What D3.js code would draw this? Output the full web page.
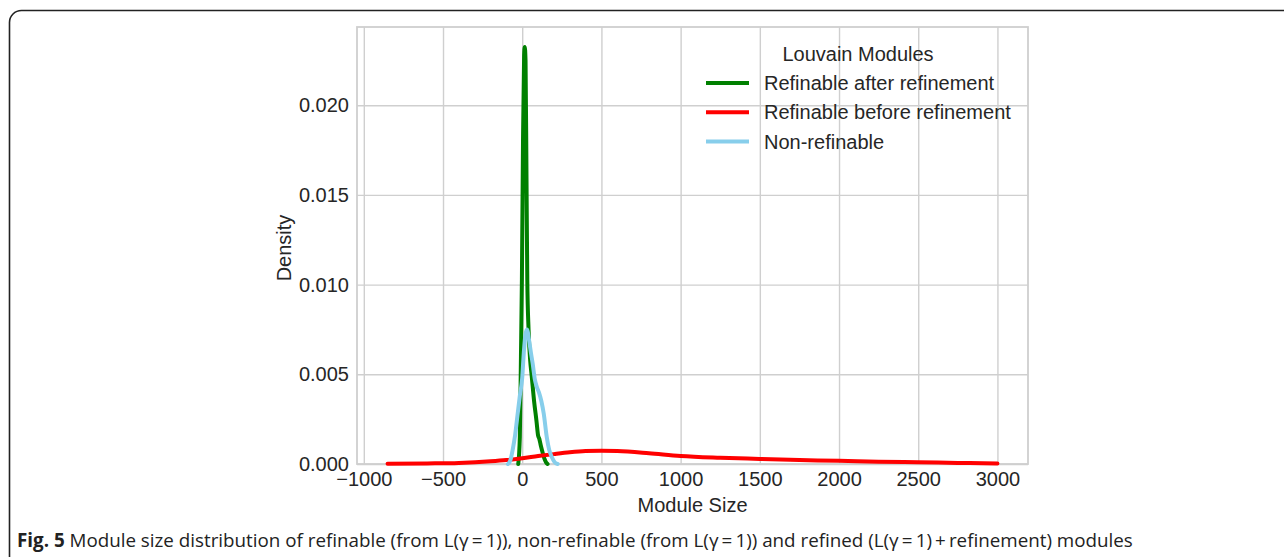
<!DOCTYPE html>
<html>
<head>
<meta charset="utf-8">
<script src="https://cdn.jsdelivr.net/npm/d3@7"></script>
<style>
  body { margin: 0; background: #fff; }
  svg { display: block; }
</style>
</head>
<body>
<div id="chart"></div>
<script>
// Series values (module size, density)
var afterX = [-25, -15, -8, -2, 5, 12, 16, 21, 27, 32, 40, 50, 60, 75, 90, 100, 108, 118, 130, 140, 150, 160];
var afterY = [0, 0.0015, 0.006, 0.0103, 0.018, 0.0228, 0.02325, 0.0225, 0.016, 0.0103, 0.0075, 0.0058, 0.0049, 0.0035, 0.0024, 0.0016, 0.0014, 0.001, 0.0006, 0.0003, 0.0001, 0];

var beforeX = [-850, -600, -400, -200, -100, 0, 100, 200, 300, 400, 500, 600, 800, 1000, 1250, 1500, 1750, 2000, 2250, 2500, 2750, 3000];
var beforeY = [0.00001, 0.00003, 0.00006, 0.00015, 0.00022, 0.00032, 0.00044, 0.00055, 0.00065, 0.00072, 0.00074, 0.00072, 0.0006, 0.00045, 0.00035, 0.00028, 0.00022, 0.00018, 0.00013, 0.0001, 0.00006, 0.00003];

var nonX = [-90, -75, -60, -45, -30, -15, 0, 10, 20, 30, 45, 55, 66, 80, 92, 105, 121, 136, 155, 170, 186, 205, 224];
var nonY = [0, 0.0002, 0.0008, 0.0016, 0.0027, 0.0038, 0.0048, 0.0062, 0.0072, 0.0075, 0.0068, 0.0062, 0.0056, 0.0047, 0.0043, 0.004, 0.0035, 0.0028, 0.0015, 0.0008, 0.0004, 0.0001, 0];

var seriesNames = ['Refinable after refinement', 'Refinable before refinement', 'Non-refinable'];
var seriesColors = ['green', 'red', 'skyblue'];
var xTicks = [-1000, -500, 0, 500, 1000, 1500, 2000, 2500, 3000];
var yTicks = [0, 0.005, 0.01, 0.015, 0.02];

var W = 1284, H = 557;
var svg = d3.select('#chart').append('svg')
    .attr('width', W).attr('height', H);

// Figure frame (rounded box, right side runs off the page)
svg.append('rect')
    .attr('x', 9.5).attr('y', 10.5)
    .attr('width', 1320).attr('height', 600)
    .attr('rx', 12).attr('ry', 12)
    .attr('fill', 'none')
    .attr('stroke', '#222').attr('stroke-width', 1.6);

var plot = { left: 357, right: 1028, top: 27, bottom: 464 };

var x = d3.scaleLinear().domain([-1043, 3193]).range([plot.left, plot.right]);
var y = d3.scaleLinear().domain([0, 0.02436]).range([plot.bottom, plot.top]);

var font = '"Liberation Sans", Arial, sans-serif';
var fs = 20;
var textColor = '#262626';
var gridColor = '#cfcfcf';

// Grid lines
svg.append('g')
    .attr('transform', 'translate(0,' + plot.bottom + ')')
    .call(d3.axisBottom(x).tickValues(xTicks).tickSize(-(plot.bottom - plot.top)).tickFormat(''))
    .call(function(g) {
        g.select('.domain').remove();
        g.selectAll('line').attr('stroke', gridColor).attr('stroke-width', 1.4);
    });

svg.append('g')
    .attr('transform', 'translate(' + plot.left + ',0)')
    .call(d3.axisLeft(y).tickValues(yTicks).tickSize(-(plot.right - plot.left)).tickFormat(''))
    .call(function(g) {
        g.select('.domain').remove();
        g.selectAll('line').attr('stroke', gridColor).attr('stroke-width', 1.4);
    });

// Axes frame
svg.append('rect')
    .attr('x', plot.left).attr('y', plot.top)
    .attr('width', plot.right - plot.left).attr('height', plot.bottom - plot.top)
    .attr('fill', 'none').attr('stroke', gridColor).attr('stroke-width', 1.8);

// Tick labels
svg.append('g')
    .attr('transform', 'translate(0,' + plot.bottom + ')')
    .call(d3.axisBottom(x).tickValues(xTicks).tickSize(0).tickPadding(8)
        .tickFormat(function(d) { return d < 0 ? '\u2212' + Math.abs(d) : d; }))
    .call(function(g) {
        g.select('.domain').remove();
        g.selectAll('text').attr('font-family', font).attr('font-size', fs).attr('fill', textColor);
    });

svg.append('g')
    .attr('transform', 'translate(' + plot.left + ',0)')
    .call(d3.axisLeft(y).tickValues(yTicks).tickSize(0).tickPadding(8).tickFormat(d3.format('.3f')))
    .call(function(g) {
        g.select('.domain').remove();
        g.selectAll('text').attr('font-family', font).attr('font-size', fs).attr('fill', textColor);
    });

// Axis titles
svg.append('text')
    .attr('x', (plot.left + plot.right) / 2).attr('y', 512)
    .attr('text-anchor', 'middle')
    .attr('font-family', font).attr('font-size', fs).attr('fill', textColor)
    .text('Module Size');

svg.append('text')
    .attr('transform', 'translate(291,248) rotate(-90)')
    .attr('text-anchor', 'middle')
    .attr('font-family', font).attr('font-size', fs).attr('fill', textColor)
    .text('Density');

// Curves
var line = d3.line()
    .x(function(d) { return x(d[0]); })
    .y(function(d) { return y(d[1]); })
    .curve(d3.curveMonotoneX);

var series = [
    d3.zip(afterX, afterY),
    d3.zip(beforeX, beforeY),
    d3.zip(nonX, nonY)
];

// draw order: green, red, blue
series.forEach(function(pts, i) {
    svg.append('path')
        .datum(pts)
        .attr('d', line)
        .attr('fill', 'none')
        .attr('stroke', seriesColors[i])
        .attr('stroke-width', 4)
        .attr('stroke-linejoin', 'round')
        .attr('stroke-linecap', 'round');
});

// Legend
var legend = svg.append('g');
legend.append('text')
    .attr('x', 858).attr('y', 61)
    .attr('text-anchor', 'middle')
    .attr('font-family', font).attr('font-size', fs).attr('fill', textColor)
    .text('Louvain Modules');

seriesNames.forEach(function(name, i) {
    var ly = 83 + i * 29.3;
    legend.append('line')
        .attr('x1', 706).attr('x2', 749)
        .attr('y1', ly).attr('y2', ly)
        .attr('stroke', seriesColors[i]).attr('stroke-width', 4);
    legend.append('text')
        .attr('x', 764).attr('y', ly + 7)
        .attr('font-family', font).attr('font-size', fs).attr('fill', textColor)
        .text(name);
});

// Caption
var cap = svg.append('text')
    .attr('x', 17).attr('y', 547)
    .attr('font-family', '"Open Sans", sans-serif').attr('font-size', 18.8).attr('fill', '#222');
cap.append('tspan').attr('font-weight', 'bold').text('Fig. 5');
cap.append('tspan').text(' Module size distribution of refinable (from L(\u03b3\u2009=\u20091)), non-refinable (from L(\u03b3\u2009=\u20091)) and refined (L(\u03b3\u2009=\u20091)\u2009+\u2009refinement) modules');
</script>
</body>
</html>
